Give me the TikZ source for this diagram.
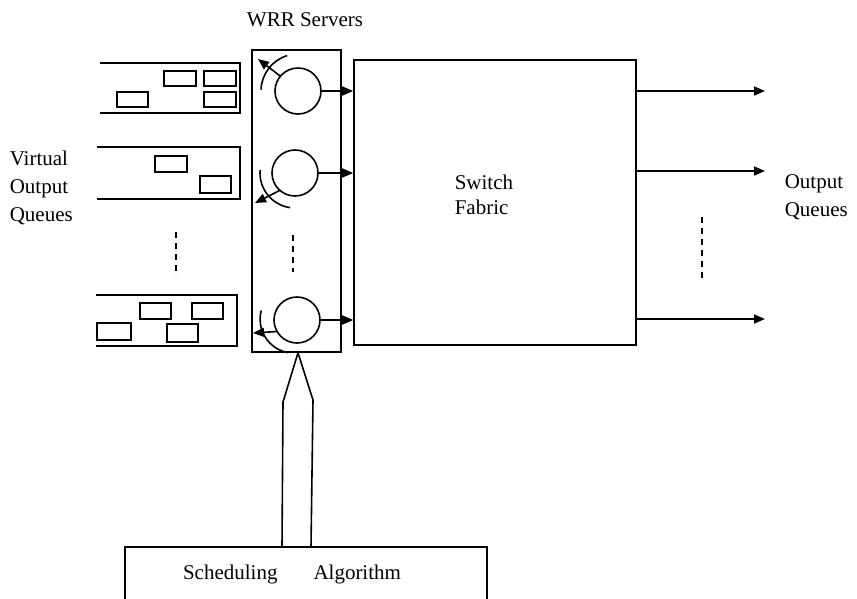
\documentclass[tikz,border=0pt]{standalone}
\usepackage{fontspec}
\setmainfont{Liberation Serif}
\usetikzlibrary{arrows.meta}
\begin{document}
\begin{tikzpicture}[x=1pt,y=-1pt, line width=1.6pt,
  lbl/.style={font=\fontsize{21}{28}\selectfont, align=left, inner sep=0, anchor=west},
  tip/.style={-{Triangle[length=11pt,width=9pt]}},
  server/.style={circle, draw, minimum size=46pt, inner sep=0},
  dots/.style={dash pattern=on 6pt off 5pt},
  pkt/.style={line width=1.5pt}]
\useasboundingbox (0,0) rectangle (857,598);
% queues
\draw (100,63) -- (240,63) -- (240,113) -- (100,113);
\draw[pkt] (164,71) rectangle (196,86) (204,71) rectangle (236,86)
  (117,92) rectangle (148,107) (204,92) rectangle (236,107);
\draw (97,147) -- (240,147) -- (240,199) -- (97,199);
\draw[pkt] (155,156) rectangle (187,172) (200,176) rectangle (231,193);
\draw (96,295) -- (237,295) -- (237,346) -- (96,346);
\draw[pkt] (140,303) rectangle (171,319) (192,303) rectangle (223,319)
  (97,323) rectangle (131,340) (167,324) rectangle (198,342);
\draw[dots] (176,232) -- (176,276);
% WRR box
\node[draw, minimum width=89pt, minimum height=302pt, inner sep=0] (wrr) at (296.5,201) {};
\node[lbl, anchor=center] (wrrt) at (305,20) {WRR Servers};
\node[server] (s1) at (298,91) {};
\node[server] (s2) at (295,173) {};
\node[server] (s3) at (297,320) {};
\draw[dots] (293,235) -- (293,272);
% rotation arcs
\draw ([shift={(253:37)}]s1.center) arc[start angle=253,end angle=182,radius=37];
\coordinate (e1) at (258,59);
\draw[tip] ([shift={(220:23)}]s1.center) -- (e1);
\draw ([shift={(185:35)}]s2.center) arc[start angle=185,end angle=98,radius=35];
\coordinate (e2) at (255,203);
\draw[tip] ([shift={(131:23)}]s2.center) -- (e2);
\draw ([shift={(195:37)}]s3.center) arc[start angle=195,end angle=100,radius=34];
\coordinate (e3) at (253,333);
\draw[tip] ([shift={(150:23)}]s3.center) -- (e3);
% switch fabric
\node[draw, minimum width=282pt, minimum height=285pt, inner sep=0] (fab) at (495,202.5) {};
\node[lbl, align=left, font=\fontsize{21}{25}\selectfont] (fabt) at (454,195) {Switch\\Fabric};
\draw[tip] (s1.east) -- (s1.east -| fab.west);
\draw[tip] (s2.east) -- (s2.east -| fab.west);
\draw[tip] (s3.east) -- (s3.east -| fab.west);
% outputs
\coordinate (o1) at (765,91);
\coordinate (o2) at (765,171);
\coordinate (o3) at (765,319);
\draw[tip] (o1 -| fab.east) -- (o1);
\draw[tip] (o2 -| fab.east) -- (o2);
\draw[tip] (o3 -| fab.east) -- (o3);
\draw[dots] (702,217) -- (702,278);
\node[lbl] (outq) at (784,197) {Output\\Queues};
\node[lbl] (voq) at (9,188) {Virtual\\Output\\Queues};
% scheduling
\draw (125,615) -- (125,547) -- (487,547) -- (487,615);
\node[lbl, anchor=center] (sched) at (292,574) {Scheduling\hspace{36pt}Algorithm};
\draw (282,547) -- (283,402) -- (wrr.south -| 298,0) -- (313,400) -- (311,547);
\end{tikzpicture}
\end{document}
